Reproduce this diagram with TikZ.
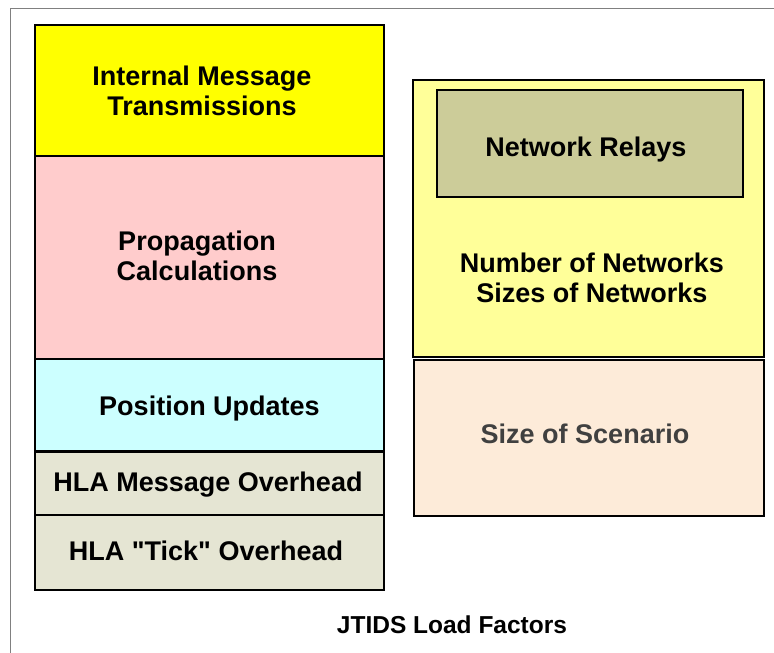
\documentclass[tikz,border=0pt]{standalone}
\usepackage{fontspec}
\setmainfont{Liberation Sans}[Ligatures=TeXOff]
\definecolor{cYellow}{HTML}{FFFF00}
\definecolor{cPink}{HTML}{FFCCCC}
\definecolor{cCyan}{HTML}{CCFFFF}
\definecolor{cHla}{HTML}{E5E5D3}
\definecolor{cPale}{HTML}{FFFF99}
\definecolor{cOlive}{HTML}{CCCC99}
\definecolor{cPeach}{HTML}{FDEBD9}
\definecolor{cGrayText}{HTML}{404040}
\begin{document}
\begin{tikzpicture}[x=1pt,y=-1pt,
  box/.style={draw=black, line width=1.6pt, rectangle, inner sep=0pt},
  lbl/.style={inner sep=0pt, align=center, font=\bfseries\fontsize{27}{30}\selectfont}]
\useasboundingbox (0,0) rectangle (774,653);
\draw[gray, line width=1pt] (10,653) -- (10,8) -- (774,8);
% left column
\node[box, fill=cYellow, minimum width=349pt, minimum height=131pt] (imt) at (209.5,90.5) {};
\node[box, fill=cPink, minimum width=349pt, minimum height=203pt] (prop) at (209.5,257.5) {};
\node[box, fill=cCyan, minimum width=349pt, minimum height=92pt] (pos) at (209.5,405) {};
\node[box, fill=cHla, minimum width=349pt, minimum height=63pt] (hlam) at (209.5,483.5) {};
\node[box, fill=cHla, minimum width=349pt, minimum height=75pt] (hlat) at (209.5,552.5) {};
\node[lbl] (imtlbl) at (202,91) {Internal Message\\Transmissions};
\node[lbl] (proplbl) at (197,255.5) {Propagation\\Calculations};
\node[lbl, anchor=base] (poslbl) at (209.5,415) {Position Updates};
\node[lbl, anchor=base] (hlamlbl) at (208,491.5) {HLA Message Overhead};
\node[lbl, anchor=base] (hlatlbl) at (206,560) {HLA "Tick" Overhead};
% right column
\node[box, fill=cPale, minimum width=351pt, minimum height=277pt] (nets) at (588.5,218.5) {};
\node[box, fill=cOlive, minimum width=306pt, minimum height=107pt] (relay) at (590,143.5) {};
\node[lbl, anchor=base] (relaylbl) at (586,156.5) {Network Relays};
\node[lbl] (netlbl) at (592,277.5) {Number of Networks\\Sizes of Networks};
\node[box, fill=cPeach, minimum width=350pt, minimum height=156pt] (scen) at (589,438) {};
\node[lbl, anchor=base, text=cGrayText] (scenlbl) at (585,443) {Size of Scenario};
% title
\node[inner sep=0pt, anchor=base, font=\bfseries\fontsize{24.5}{28}\selectfont] (title) at (452,633) {JTIDS Load Factors};
\end{tikzpicture}
\end{document}
